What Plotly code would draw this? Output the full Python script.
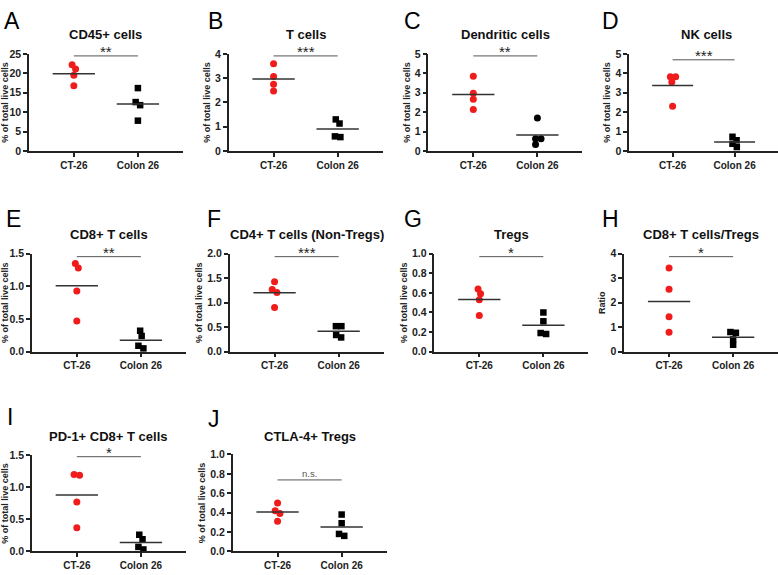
import plotly.graph_objects as go
import numpy as np

W, H = 778, 575
FONT = "Arial, Liberation Sans, sans-serif"

groups = ["CT-26", "Colon 26"]

# values (% of total live cells, ratio in H)
cd45_ct26 = [22.2, 21.1, 19.5, 16.8]
cd45_colon26 = [16.2, 12.6, 11.8, 7.8]
tcell_ct26 = [3.6, 3.07, 2.75, 2.47]
tcell_colon26 = [1.3, 1.13, 0.6, 0.57]
dc_ct26 = [3.85, 2.97, 2.67, 2.14]
dc_colon26 = [1.7, 0.63, 0.63, 0.33]
nk_ct26 = [3.83, 3.82, 3.56, 2.3]
nk_colon26 = [0.73, 0.55, 0.37, 0.2]
cd8_ct26 = [1.35, 1.28, 0.93, 0.47]
cd8_colon26 = [0.32, 0.24, 0.09, 0.05]
cd4_ct26 = [1.43, 1.27, 1.21, 0.9]
cd4_colon26 = [0.52, 0.52, 0.34, 0.29]
treg_ct26 = [0.64, 0.59, 0.53, 0.37]
treg_colon26 = [0.40, 0.31, 0.19, 0.18]
ratio_ct26 = [3.42, 2.55, 1.43, 0.79]
ratio_colon26 = [0.8, 0.77, 0.5, 0.28]
pd1_ct26 = [1.2, 1.19, 0.77, 0.37]
pd1_colon26 = [0.26, 0.19, 0.07, 0.03]
ctla4_ct26 = [0.5, 0.42, 0.39, 0.31]
ctla4_colon26 = [0.38, 0.29, 0.18, 0.16]

letters = list("ABCDEFGHIJ")
titles = ["CD45+ cells", "T cells", "Dendritic cells", "NK cells",
          "CD8+ T cells", "CD4+ T cells (Non-Tregs)", "Tregs", "CD8+ T cells/Tregs",
          "PD-1+ CD8+ T cells", "CTLA-4+ Tregs"]
stars = ["**", "***", "**", "***", "**", "***", "*", "*", "*", "n.s."]
y_titles = ["% of total live cells"] * 7 + ["Ratio"] + ["% of total live cells"] * 2
y_max = [25, 4, 5, 5, 1.5, 2.0, 1.0, 4, 1.5, 1.0]
y_step = [5, 1, 1, 1, 0.5, 0.5, 0.2, 1, 0.5, 0.2]
y_fmt = ["d", "d", "d", "d", ".1f", ".1f", ".1f", "d", ".1f", ".1f"]
bar_level = [24.5, 3.92, 4.9, 4.7, 1.455, 1.94, 0.97, 3.88, 1.48, 0.737]

data = [(cd45_ct26, cd45_colon26), (tcell_ct26, tcell_colon26), (dc_ct26, dc_colon26),
        (nk_ct26, nk_colon26), (cd8_ct26, cd8_colon26), (cd4_ct26, cd4_colon26),
        (treg_ct26, treg_colon26), (ratio_ct26, ratio_colon26), (pd1_ct26, pd1_colon26),
        (ctla4_ct26, ctla4_colon26)]

# plot boxes in pixels: left, top, bottom
boxes = [(28, 49, 148), (228, 49, 148), (428, 49, 148), (629, 49, 148),
         (31, 253, 353), (229, 253, 353), (434, 253, 353), (624, 253, 353),
         (31, 459, 557), (232, 458, 557)]
letter_pos = [(1, 15), (205, 15), (402, 15), (600, 15),
              (3, 218), (204, 218), (402, 218), (600, 218),
              (4, 420), (205, 422)]
title_y = [29] * 4 + [233] * 4 + [440] * 2
PW = 154
XR = [-0.7, 1.7]
cat_px = PW / (XR[1] - XR[0])


def swarm(values, px_per_unit, d=5.5, step=0.25):
    # simple beeswarm in pixels, each touching cluster centred on the group
    placed = []
    for v in values:
        yv = v * px_per_unit
        k = 0
        off = None
        while off is None:
            for c in ([0.0] if k == 0 else [k * step, -k * step]):
                if all((c - px) ** 2 + (yv - py) ** 2 >= d * d - 1e-6 for px, py in placed):
                    off = c
                    break
            k += 1
        placed.append((off, yv))
    n = len(placed)
    lab = list(range(n))
    for i in range(n):
        for j in range(i + 1, n):
            dist = np.hypot(placed[i][0] - placed[j][0], placed[i][1] - placed[j][1])
            if dist < d + 0.6:
                old, new = lab[j], lab[i]
                lab = [new if l == old else l for l in lab]
    offs = np.array([p[0] for p in placed])
    out = offs.copy()
    for l in set(lab):
        idx = [i for i in range(n) if lab[i] == l]
        out[idx] = offs[idx] - offs[idx].mean()
    return out / cat_px


fig = go.Figure()
annotations = []

for i in range(10):
    s = "" if i == 0 else str(i + 1)
    left, top, bottom = boxes[i]
    ppu = (bottom - top) / y_max[i]
    ct, col = data[i]
    colon_symbol = "circle" if i == 2 else "square"

    for g, vals in enumerate([ct, col]):
        xs = g + swarm(vals, ppu)
        fig.add_trace(go.Scatter(
            x=xs, y=vals, mode="markers", xaxis="x" + s, yaxis="y" + s,
            marker=dict(color="#f01c1c" if g == 0 else "black",
                        symbol="circle" if g == 0 else colon_symbol,
                        size=7 if (g == 0 or colon_symbol == "circle") else 6.5,
                        line=dict(width=0)),
            cliponaxis=False, showlegend=False))
        m = float(np.mean(vals))
        fig.add_trace(go.Scatter(
            x=[g - 0.33, g + 0.33], y=[m, m], mode="lines", xaxis="x" + s, yaxis="y" + s,
            line=dict(color="#333333", width=1.5), cliponaxis=False, showlegend=False))

    # significance bar
    fig.add_trace(go.Scatter(
        x=[0, 1], y=[bar_level[i]] * 2, mode="lines", xaxis="x" + s, yaxis="y" + s,
        line=dict(color="#555555", width=1), cliponaxis=False, showlegend=False))
    ns = stars[i] == "n.s."
    annotations.append(dict(
        x=0.5, y=bar_level[i], xref="x" + s, yref="y" + s, text=stars[i],
        showarrow=False, yanchor="bottom", yshift=-6 if not ns else -1,
        font=dict(family=FONT, size=15 if not ns else 9.5,
                  color="#222222" if not ns else "#555555")))

    fig.update_layout({
        "xaxis" + s: dict(
            domain=[left / W, min(1.0, (left + PW) / W)], anchor="y" + s, range=XR,
            tickvals=[0, 1], ticktext=groups, ticks="outside", ticklen=4, tickwidth=1.5,
            tickcolor="#222", showline=True, linecolor="#222", linewidth=1.5,
            showgrid=False, zeroline=False, fixedrange=True,
            tickfont=dict(family=FONT, size=10, color="#222", weight="bold")),
        "yaxis" + s: dict(
            domain=[1 - bottom / H, 1 - top / H], anchor="x" + s,
            range=[0, y_max[i]], dtick=y_step[i], tick0=0, tickformat=y_fmt[i],
            ticks="outside", ticklen=4, tickwidth=1.5, tickcolor="#222",
            showline=True, linecolor="#222", linewidth=1.5,
            showgrid=False, zeroline=False, fixedrange=True,
            tickfont=dict(family=FONT, size=10.5, color="#222", weight="bold"),
            title=dict(text=y_titles[i], standoff=3,
                       font=dict(family=FONT, size=9, color="#222", weight="bold"))),
    })

    annotations.append(dict(
        x=(left + PW / 2) / W, y=1 - title_y[i] / H, xref="paper", yref="paper",
        text=titles[i], showarrow=False, xanchor="center", yanchor="middle",
        font=dict(family=FONT, size=13, color="#111", weight="bold")))
    lx, ly = letter_pos[i]
    annotations.append(dict(
        x=lx / W, y=1 - ly / H, xref="paper", yref="paper", text=letters[i],
        showarrow=False, xanchor="left", yanchor="middle",
        font=dict(family=FONT, size=23, color="black")))

fig.update_layout(
    width=W, height=H,
    margin=dict(l=0, r=0, t=0, b=0),
    paper_bgcolor="white", plot_bgcolor="white",
    annotations=annotations,
    showlegend=False,
)

fig.write_html("out.html", config={"displayModeBar": False},
               post_script="document.body.style.margin='0';document.body.style.overflow='hidden';")
